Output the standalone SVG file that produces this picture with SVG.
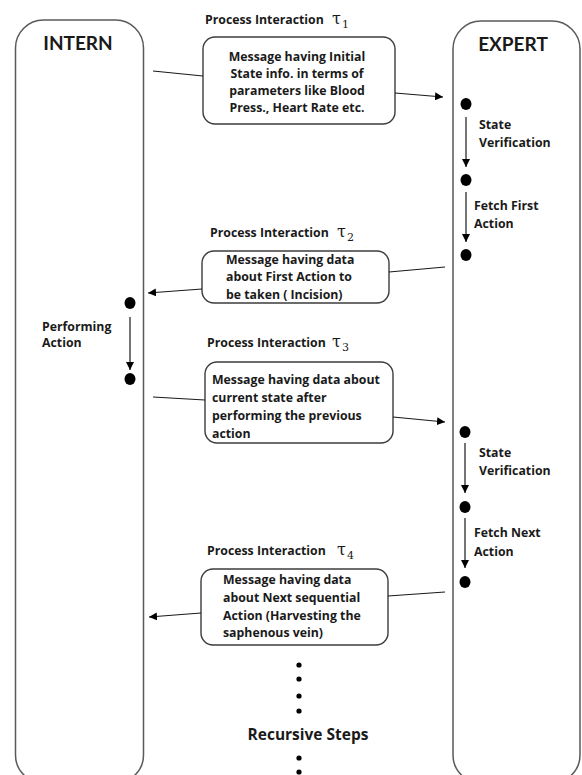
<svg xmlns="http://www.w3.org/2000/svg" width="582" height="775" viewBox="0 0 582 775">
  <style>
    .lane { fill: #ffffff; stroke: #5a5a5a; stroke-width: 1.5; }
    .msg { fill: #ffffff; stroke: #3c3c3c; stroke-width: 1.4; }
    .title { font-family: Lato, "Liberation Sans", sans-serif; font-weight: bold; font-size: 19px; fill: #1a1a1a; }
    .txt { font-family: "Open Sans", "Liberation Sans", sans-serif; font-weight: bold; font-size: 12.3px; fill: #1a1a1a; }
    .pi { font-family: "Open Sans", "Liberation Sans", sans-serif; font-weight: bold; font-size: 12.3px; fill: #1a1a1a; }
    .tau { font-family: "DejaVu Serif", "Liberation Serif", serif; font-size: 16px; fill: #1a1a1a; }
    .sub { font-family: "DejaVu Serif", "Liberation Serif", serif; font-size: 11px; fill: #1a1a1a; }
    .big { font-family: "Open Sans", "Liberation Sans", sans-serif; font-weight: bold; font-size: 15.5px; fill: #1a1a1a; }
    .edge { fill: none; stroke: #1a1a1a; stroke-width: 1.2; }
    .dot { fill: #000000; }
  </style>
  <defs>
    <marker id="head" viewBox="0 0 10 10" refX="10" refY="5" markerWidth="8" markerHeight="8" markerUnits="userSpaceOnUse" orient="auto">
      <path d="M0,0 L10,5 L0,10 z" fill="#000"/>
    </marker>
  </defs>

  <!-- swimlanes -->
  <g id="intern">
    <rect class="lane" x="15.5" y="20" width="128" height="763" rx="28" ry="28"/>
    <text class="title" x="78" y="50" text-anchor="middle">INTERN</text>
  </g>
  <g id="expert">
    <rect class="lane" x="453" y="21" width="127" height="762" rx="28" ry="28"/>
    <text class="title" x="513" y="51" text-anchor="middle">EXPERT</text>
  </g>

  <!-- process interaction labels -->
  <g id="pi1">
    <text class="pi" x="205" y="24">Process Interaction</text>
    <text class="tau" x="332" y="24">τ</text><text class="sub" x="342" y="28">1</text>
  </g>
  <g id="pi2">
    <text class="pi" x="210" y="237">Process Interaction</text>
    <text class="tau" x="337" y="237">τ</text><text class="sub" x="347" y="241">2</text>
  </g>
  <g id="pi3">
    <text class="pi" x="207" y="347">Process Interaction</text>
    <text class="tau" x="332" y="347">τ</text><text class="sub" x="342" y="351">3</text>
  </g>
  <g id="pi4">
    <text class="pi" x="207" y="555">Process Interaction</text>
    <text class="tau" x="337" y="555">τ</text><text class="sub" x="347" y="559">4</text>
  </g>

  <!-- message boxes -->
  <g id="msg1">
    <rect class="msg" x="203" y="37" width="192" height="87" rx="12" ry="12"/>
    <text class="txt" x="297" y="61" text-anchor="middle">Message having Initial</text>
    <text class="txt" x="297" y="78" text-anchor="middle">State info. in terms of</text>
    <text class="txt" x="297" y="95" text-anchor="middle">parameters like Blood</text>
    <text class="txt" x="297" y="112" text-anchor="middle">Press., Heart Rate etc.</text>
  </g>
  <g id="msg2">
    <rect class="msg" x="202" y="251" width="187" height="52" rx="12" ry="12"/>
    <text class="txt" x="226" y="264">Message having data</text>
    <text class="txt" x="226" y="281">about First Action to</text>
    <text class="txt" x="226" y="299">be taken ( Incision)</text>
  </g>
  <g id="msg3">
    <rect class="msg" x="205" y="362" width="188" height="81" rx="12" ry="12"/>
    <text class="txt" x="212" y="384">Message having data about</text>
    <text class="txt" x="212" y="402">current state after</text>
    <text class="txt" x="212" y="420">performing the previous</text>
    <text class="txt" x="212" y="438">action</text>
  </g>
  <g id="msg4">
    <rect class="msg" x="201" y="569" width="187" height="76" rx="12" ry="12"/>
    <text class="txt" x="223" y="584">Message having data</text>
    <text class="txt" x="223" y="602">about Next sequential</text>
    <text class="txt" x="223" y="620">Action (Harvesting the</text>
    <text class="txt" x="223" y="637">saphenous vein)</text>
  </g>

  <!-- state dots -->
  <g id="states">
    <ellipse class="dot" cx="466" cy="104" rx="5.5" ry="6"/>
    <ellipse class="dot" cx="466" cy="180" rx="5.5" ry="6"/>
    <ellipse class="dot" cx="466" cy="255" rx="5.5" ry="6"/>
    <ellipse class="dot" cx="130" cy="303" rx="5.5" ry="6"/>
    <ellipse class="dot" cx="130" cy="379" rx="5.5" ry="6"/>
    <ellipse class="dot" cx="465" cy="432" rx="5.5" ry="6"/>
    <ellipse class="dot" cx="465" cy="507" rx="5.5" ry="6"/>
    <ellipse class="dot" cx="465" cy="582" rx="5.5" ry="6"/>
  </g>

  <!-- step labels -->
  <g id="steps">
    <text class="txt" x="479" y="129">State</text>
    <text class="txt" x="479" y="147">Verification</text>
    <text class="txt" x="474" y="210">Fetch First</text>
    <text class="txt" x="474" y="228">Action</text>
    <text class="txt" x="42" y="331">Performing</text>
    <text class="txt" x="42" y="347">Action</text>
    <text class="txt" x="479" y="457">State</text>
    <text class="txt" x="479" y="475">Verification</text>
    <text class="txt" x="474" y="537">Fetch Next</text>
    <text class="txt" x="474" y="556">Action</text>
  </g>

  <!-- connectors -->
  <g id="connectors">
    <line class="edge" x1="153" y1="71" x2="203" y2="76"/>
    <line class="edge" x1="395" y1="93" x2="443" y2="97" marker-end="url(#head)"/>
    <line class="edge" x1="466" y1="117" x2="466" y2="167" marker-end="url(#head)"/>
    <line class="edge" x1="466" y1="192" x2="466" y2="242" marker-end="url(#head)"/>
    <line class="edge" x1="445" y1="267" x2="389" y2="272"/>
    <line class="edge" x1="202" y1="289" x2="148" y2="293" marker-end="url(#head)"/>
    <line class="edge" x1="130" y1="317" x2="130" y2="370" marker-end="url(#head)"/>
    <line class="edge" x1="153" y1="397" x2="205" y2="400"/>
    <line class="edge" x1="393" y1="417" x2="445" y2="422" marker-end="url(#head)"/>
    <line class="edge" x1="465" y1="443" x2="465" y2="493" marker-end="url(#head)"/>
    <line class="edge" x1="465" y1="518" x2="465" y2="568" marker-end="url(#head)"/>
    <line class="edge" x1="445" y1="592" x2="388" y2="596"/>
    <line class="edge" x1="201" y1="613" x2="149" y2="617" marker-end="url(#head)"/>
  </g>

  <!-- continuation -->
  <g id="recursion">
    <circle class="dot" cx="299" cy="665" r="2.6"/>
    <circle class="dot" cx="299" cy="679" r="2.6"/>
    <circle class="dot" cx="299" cy="696" r="2.6"/>
    <circle class="dot" cx="299" cy="711" r="2.6"/>
    <text class="big" x="308" y="740" text-anchor="middle">Recursive Steps</text>
    <circle class="dot" cx="299" cy="758" r="2.6"/>
    <circle class="dot" cx="299" cy="772" r="2.6"/>
  </g>
</svg>
